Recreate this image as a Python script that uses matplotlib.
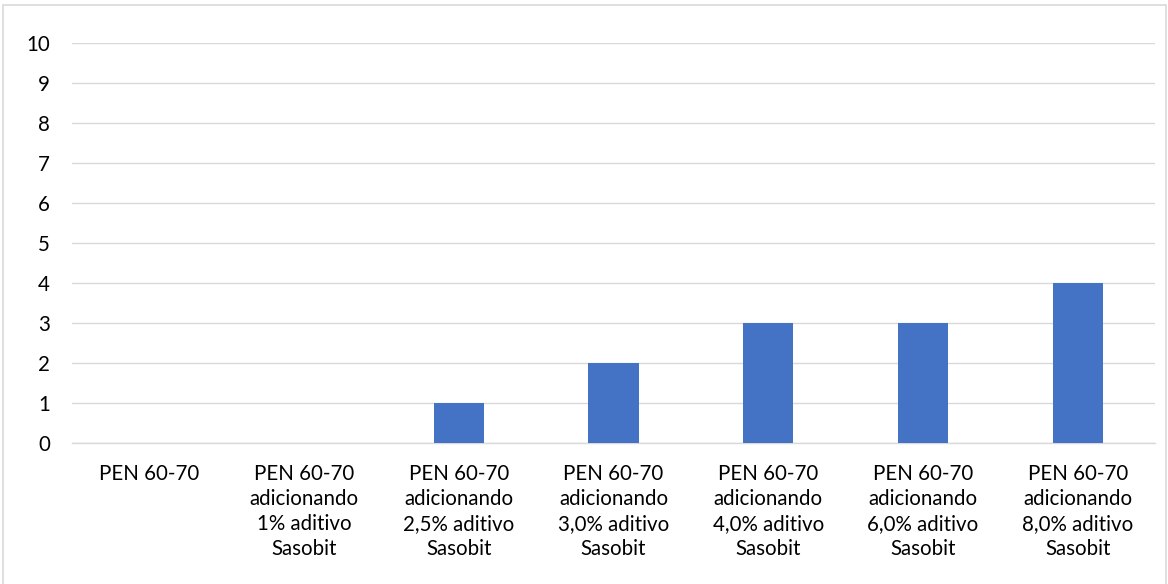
import matplotlib.pyplot as plt
from matplotlib.patches import Rectangle

plt.rcParams['font.family'] = ['Lato', 'DejaVu Sans']

categories = [
    'PEN 60-70',
    'PEN 60-70\nadicionando\n1% aditivo\nSasobit',
    'PEN 60-70\nadicionando\n2,5% aditivo\nSasobit',
    'PEN 60-70\nadicionando\n3,0% aditivo\nSasobit',
    'PEN 60-70\nadicionando\n4,0% aditivo\nSasobit',
    'PEN 60-70\nadicionando\n6,0% aditivo\nSasobit',
    'PEN 60-70\nadicionando\n8,0% aditivo\nSasobit',
]
values = [0, 0, 1, 2, 3, 3, 4]
y_ticks = list(range(0, 11))

W, H = 1168, 584
fig = plt.figure(figsize=(W / 100, H / 100), dpi=100)
ax = fig.add_axes([72 / W, (H - 443) / H, (1155 - 72) / W, 400 / H])

x = range(len(categories))
ax.bar(x, values, width=0.325, color='#4472c4', zorder=3)

ax.set_ylim(0, 10)
ax.set_xlim(-0.5, len(categories) - 0.5)
ax.set_yticks(y_ticks)
ax.set_xticks(list(x))
ax.set_xticklabels(categories, fontsize=14.8, color='#000000', linespacing=1.31)
ax.tick_params(axis='y', labelsize=14.8, length=0, pad=16)
ax.tick_params(axis='x', length=0, pad=15)
ax.grid(axis='y', color='#d9d9d9', linewidth=1, zorder=0)
for side in ['top', 'right', 'left']:
    ax.spines[side].set_visible(False)
ax.spines['bottom'].set_color('#d9d9d9')
ax.spines['bottom'].set_linewidth(1)

# outer chart border
fig.patches.append(Rectangle((2.5 / W, -1 / H), (W - 5) / W, (H - 4.5 + 1) / H,
                             transform=fig.transFigure, fill=False,
                             edgecolor='#d9d9d9', linewidth=1.2))

fig.savefig('out.png', dpi=100)
